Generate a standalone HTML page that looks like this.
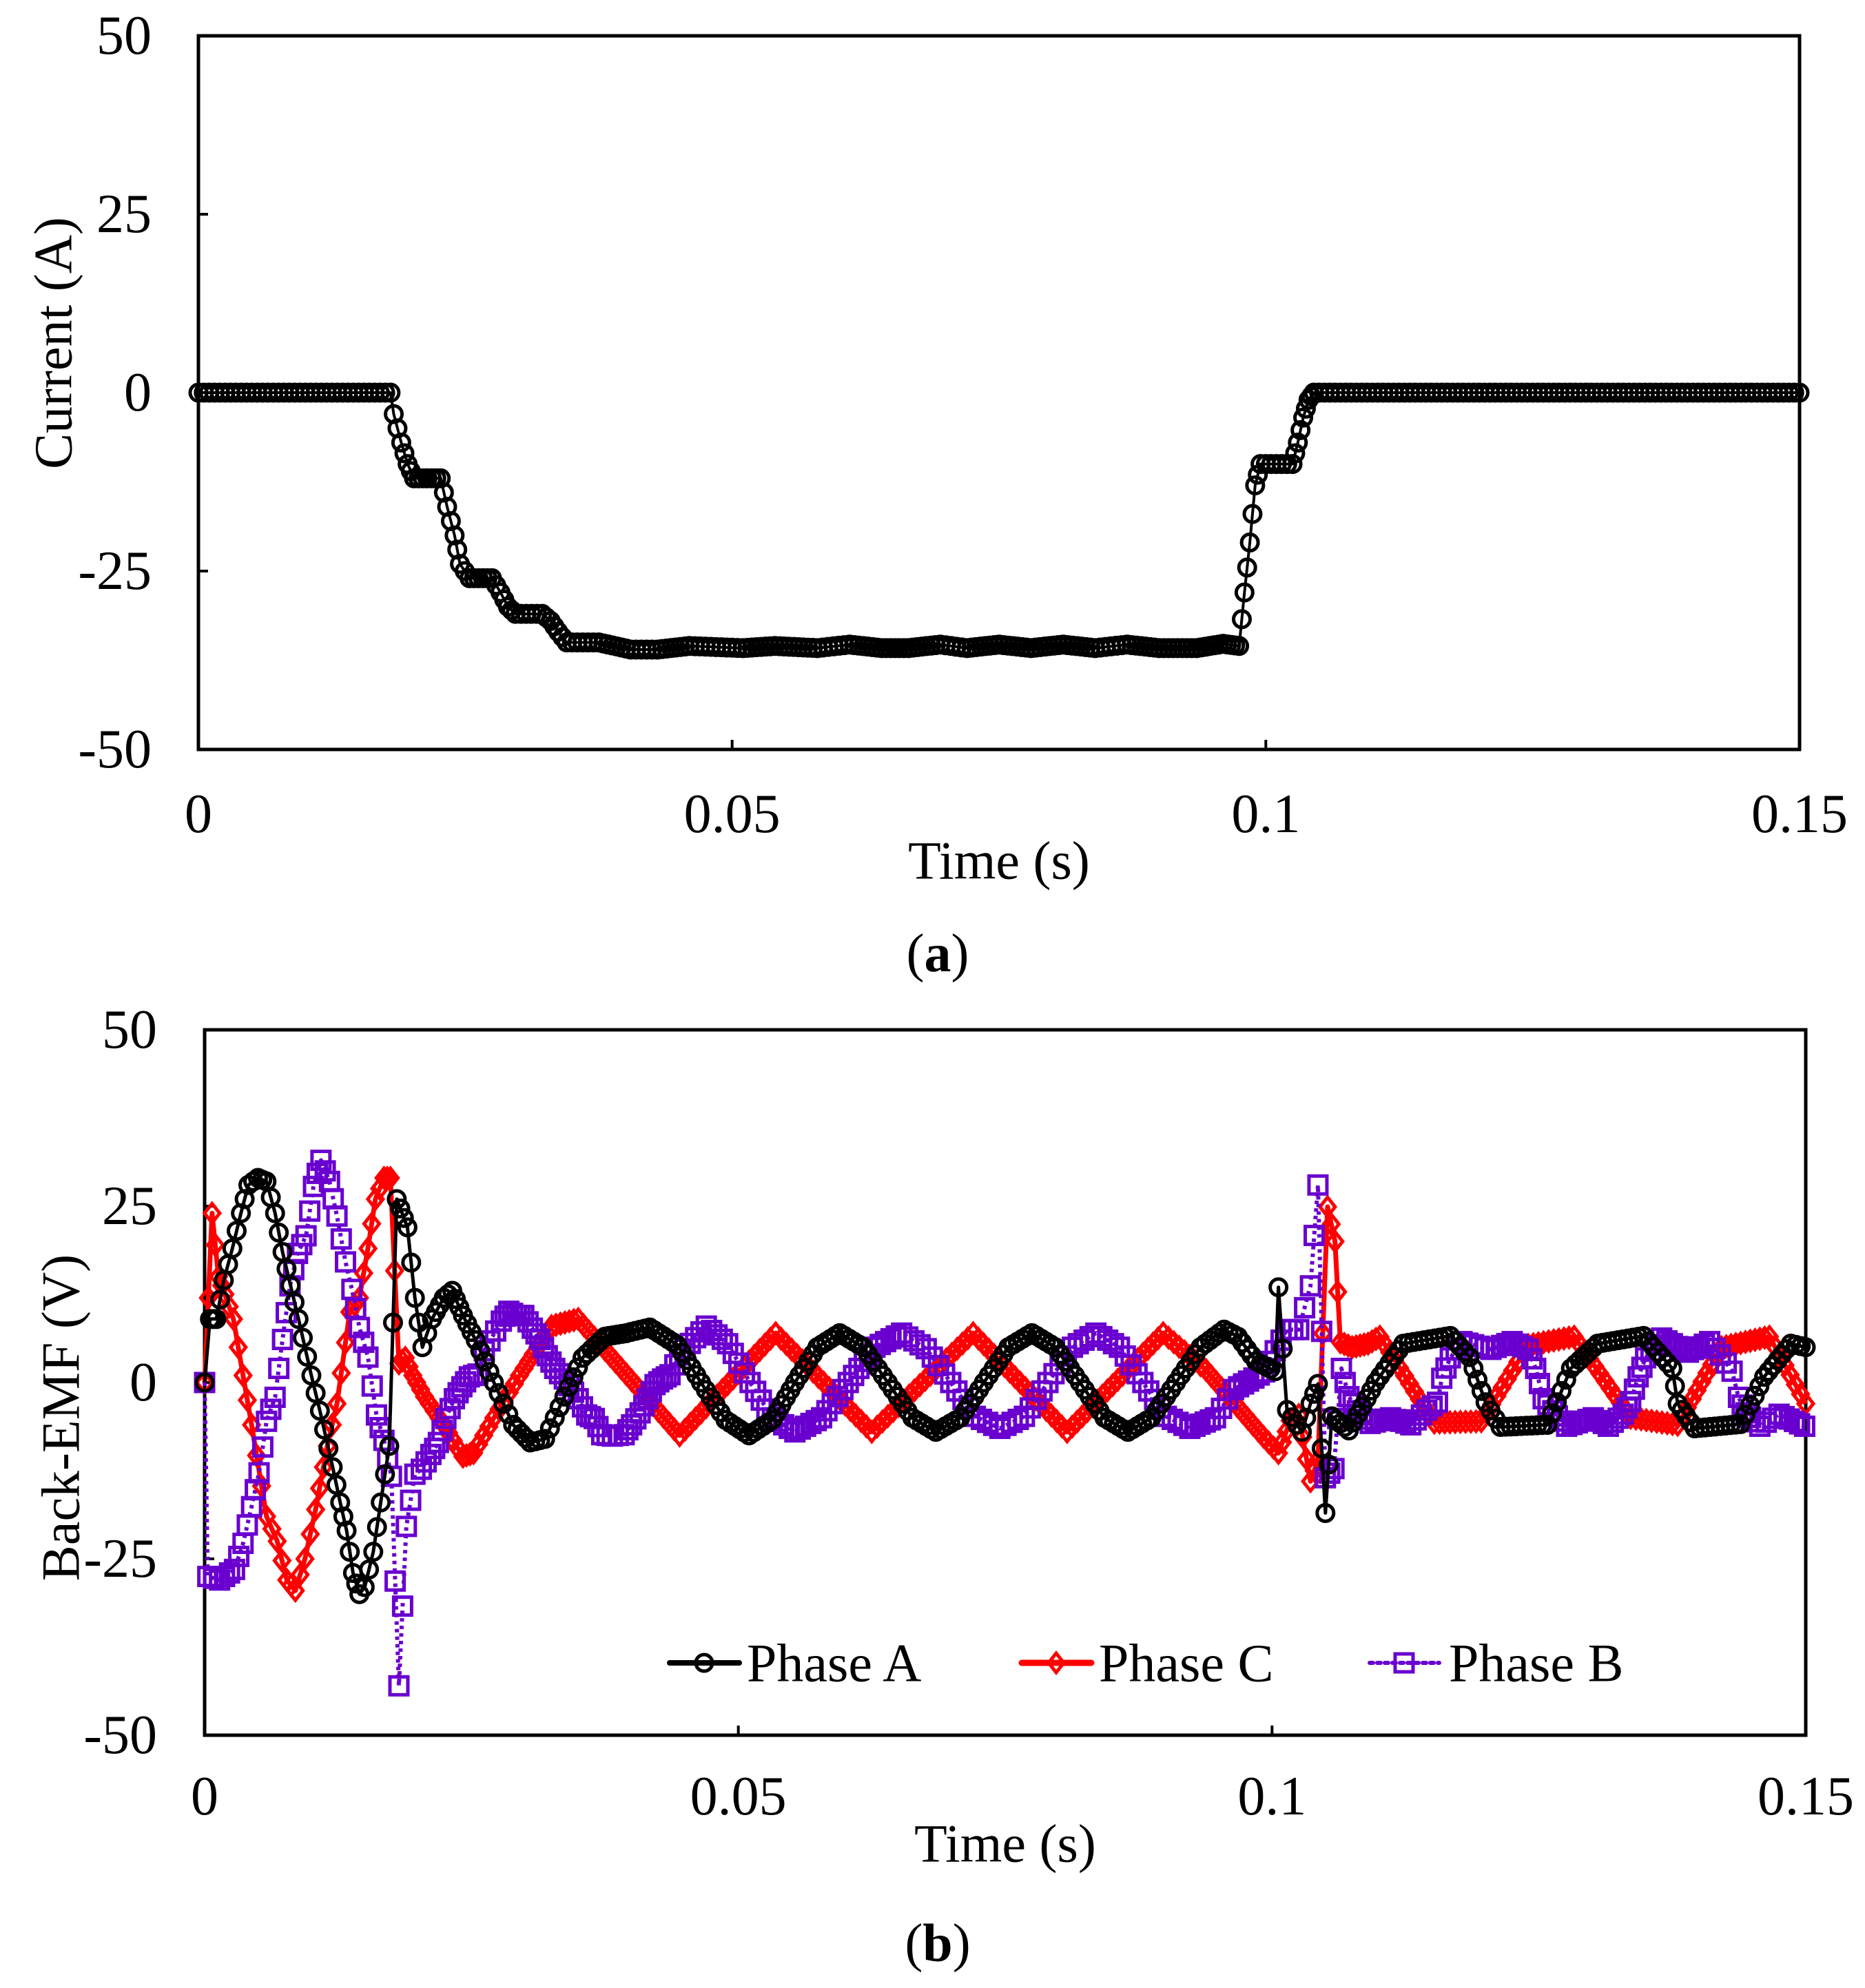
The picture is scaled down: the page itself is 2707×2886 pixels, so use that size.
<!DOCTYPE html>
<html><head><meta charset="utf-8"><style>
html,body{margin:0;padding:0;background:#fff;}
svg{display:block;font-family:"Liberation Serif",serif;}
</style></head><body>
<svg id="fig" xmlns="http://www.w3.org/2000/svg" width="2707" height="2886" viewBox="0 0 2707 2886">
<rect width="2707" height="2886" fill="#fff"/>
<g id="chartA"></g>
<g id="chartB"></g>
</svg>
<script>
// ---- Chart (a): current ----
const curT = [0,0.018,0.0183,0.019,0.0196,0.0202,0.0227,0.0233,0.024,0.0245,0.0254,0.0275,0.0283,0.029,0.0297,0.0322,0.033,0.0337,0.0345,0.0375,0.0405,0.043,0.046,0.051,0.054,0.058,0.061,0.064,0.0665,0.0695,0.072,0.075,0.078,0.081,0.084,0.087,0.09,0.0935,0.096,0.0975,0.098,0.0985,0.099,0.0995,0.1025,0.103,0.1035,0.104,0.1045,0.15];
const curV = [0,0,-3,-7,-10,-12,-12,-16,-20,-24,-26,-26,-28,-30,-31,-31,-32,-33.5,-35,-35,-36,-36,-35.5,-35.8,-35.5,-35.8,-35.3,-35.8,-35.8,-35.3,-35.8,-35.3,-35.8,-35.3,-35.8,-35.3,-35.8,-35.8,-35.2,-35.5,-28,-21,-13,-10,-10,-7,-3.5,-1,0,0];
// ---- Chart (b): back-EMF ----
const aT = [0,0.0005,0.0011,0.0018,0.0026,0.0034,0.0041,0.005,0.0058,0.0066,0.0073,0.0088,0.01,0.0108,0.012,0.0127,0.0133,0.0139,0.0145,0.015,0.0158,0.0165,0.0173,0.018,0.019,0.0197,0.0204,0.0213,0.0224,0.0232,0.0242,0.0254,0.0271,0.0289,0.0305,0.0319,0.0337,0.0354,0.0375,0.0395,0.0417,0.0443,0.0465,0.0488,0.051,0.0532,0.0553,0.0574,0.0595,0.0617,0.064,0.0663,0.0685,0.0708,0.073,0.0753,0.0775,0.0797,0.082,0.0843,0.0865,0.0887,0.091,0.0933,0.0955,0.0968,0.0985,0.1003,0.1006,0.1014,0.1028,0.1036,0.1043,0.105,0.1056,0.1072,0.1097,0.1123,0.1167,0.1185,0.12,0.1214,0.1258,0.128,0.1305,0.1348,0.1375,0.138,0.1396,0.1439,0.1461,0.1486,0.15];
const aV = [0,9,9,14.5,19,24,28,29,28.5,24,18.5,9,1,-4,-12,-17,-21,-27,-30,-29,-24,-17,-9,26,22,12,5,9,12,13,9.5,6,0,-6,-8.5,-8,-2,3.5,6.5,7,7.8,5.3,0,-5.3,-7.5,-5.3,0,5,7,5,0,-5,-7,-5,0,5,7,5,0,-5,-7,-5,0,5,7.5,6.5,3,1.6,13.5,-3.9,-7,-3,-0.2,-18.5,-4.8,-6.8,0,5.5,6.6,3.6,-2.8,-6.3,-6,2,5.5,6.6,2,-3,-6.5,-5.9,0.8,5.5,5];
const cT = [0,0.0007,0.0013,0.0019,0.0027,0.0036,0.0044,0.0058,0.0068,0.0077,0.0085,0.0094,0.0104,0.0115,0.0124,0.0136,0.0145,0.0153,0.016,0.0168,0.0174,0.0182,0.0188,0.0195,0.0206,0.0224,0.0242,0.0252,0.0271,0.0295,0.0325,0.035,0.0445,0.0535,0.0625,0.072,0.0808,0.0898,0.0938,0.0992,0.1006,0.1017,0.1025,0.1036,0.1043,0.1052,0.1059,0.1064,0.1075,0.109,0.1101,0.1152,0.1196,0.124,0.1283,0.1336,0.138,0.1421,0.1466,0.15];
const cV = [0,24,15,12.5,9,1,-6,-19,-22.5,-28,-29.5,-25,-18,-9,-3,10,12,19,26,29,29,2.7,3.5,1,-2,-6,-10.5,-10,-5,1,8,9,-7.5,7,-7,7,-7,7,1.8,-7.7,-10,-5.4,-4.6,-14,-11,24.9,20,5.7,5,5.5,6.5,-5.7,-5.5,5.3,6.5,-5,-6,5,6.5,-3];
const bT = [0,0.0003,0.0014,0.0028,0.0036,0.0044,0.0051,0.0058,0.0066,0.0073,0.008,0.0087,0.0095,0.0102,0.0109,0.0117,0.0124,0.0132,0.0138,0.0145,0.0153,0.0161,0.0168,0.0175,0.0182,0.0189,0.0197,0.0203,0.0212,0.0219,0.0226,0.0234,0.0241,0.0248,0.0256,0.0262,0.0278,0.0285,0.0292,0.0299,0.0307,0.0314,0.0321,0.0328,0.0337,0.035,0.0358,0.0365,0.0372,0.0382,0.0393,0.04,0.0408,0.0415,0.0422,0.0429,0.0436,0.0445,0.047,0.049,0.0511,0.0532,0.0553,0.0578,0.0603,0.0628,0.0653,0.0676,0.0699,0.0722,0.0745,0.0768,0.079,0.0813,0.0835,0.0857,0.0879,0.0901,0.0923,0.0947,0.0964,0.0978,0.0993,0.1003,0.1014,0.1025,0.1036,0.1043,0.105,0.1058,0.1065,0.1072,0.108,0.1092,0.1111,0.113,0.1145,0.1155,0.1159,0.1167,0.1178,0.1205,0.1225,0.124,0.1247,0.1254,0.1263,0.1276,0.1301,0.1315,0.1329,0.1336,0.1343,0.135,0.1365,0.139,0.141,0.142,0.1431,0.1437,0.1444,0.1457,0.1475,0.1499];
const bV = [0,-27.5,-28,-26.5,-22.8,-17.6,-12.8,-5.5,-2.1,6.1,13.7,18.3,20.8,27.8,31.5,28.5,23.6,17.1,13.2,7.8,3.6,-4.6,-8.2,-13.3,-43,-20.4,-13,-12.3,-10.2,-8.5,-5.1,-2.3,-0.6,0.8,1.2,4.5,8.7,10.1,9.5,9.5,7.7,6.1,3.8,2,0.5,-2.3,-4.6,-5.1,-7.4,-7.6,-7.4,-6,-4.3,-2.3,-0.3,0.5,1.1,3.9,8,5.5,0,-5,-7,-5,0,5,7,4.8,0,-4.8,-6.5,-4.8,0,5,7,5,0,-4.8,-6.5,-5,-1,0.2,1.5,4.5,7.5,7.5,13.7,28,-13.5,-12.2,2,-2,-4,-5.8,-5,-6,-3.9,-2.8,0.6,3.5,5.8,4.7,5.8,4.7,2,-2.3,-4,-6.2,-5,-6.2,-4.5,-2.7,0.8,3.5,6.3,4.3,5.8,3.9,1.6,-2.1,-4.3,-6.2,-4.5,-6.2];
const xTicks = [0,0.05,0.1,0.15];
const xTickLabels = ["0","0.05","0.1","0.15"];
const yTicks = [50,25,0,-25,-50];
const yTickLabels = ["50","25","0","-25","-50"];

const NS = "http://www.w3.org/2000/svg";
function mk(parent, tag, attrs){const e=document.createElementNS(NS,tag);for(const k in attrs)e.setAttribute(k,attrs[k]);parent.appendChild(e);return e;}

function axes(g, L, R, T, B, labelRight, xLabY, yTitle, yTitleX, yTitleY, xTitleY, capY, cap){
  const sx=t=>L+(t-0)/(0.15)*(R-L);
  const sy=v=>T+(50-v)/100*(B-T);
  const frame=mk(g,'rect',{x:L,y:T,width:R-L,height:B-T,fill:'none',stroke:'#000','stroke-width':5});
  
  
  xTicks.forEach((t,i)=>{
    const tk=mk(g,'line',{x1:sx(t),x2:sx(t),y1:B,y2:B-14,stroke:'#000','stroke-width':4});
    
    
    const tx=mk(g,'text',{x:sx(t),y:xLabY,'font-size':80,'text-anchor':'middle','dominant-baseline':'central'});
    tx.textContent=xTickLabels[i];
    
    
  });
  yTicks.forEach((v,i)=>{
    const tk=mk(g,'line',{x1:L,x2:L+14,y1:sy(v),y2:sy(v),stroke:'#000','stroke-width':4});
    
    
    const tx=mk(g,'text',{x:labelRight,y:sy(v),'font-size':80,'text-anchor':'end','dominant-baseline':'central'});
    tx.textContent=yTickLabels[i];
    
    
  });
  const xt=mk(g,'text',{x:(L+R)/2,y:xTitleY,'font-size':78,'text-anchor':'middle','dominant-baseline':'central'});
  xt.textContent='Time (s)';
  
  
  const yt=mk(g,'text',{x:yTitleX,y:yTitleY,'font-size':78,'text-anchor':'middle','dominant-baseline':'central',transform:`rotate(-90 ${yTitleX} ${yTitleY})`});
  yt.textContent=yTitle;
  
  
  const cp=mk(g,'text',{x:1361,y:capY,'font-size':78,'text-anchor':'middle','dominant-baseline':'central'});
  cp.innerHTML='(<tspan font-weight="bold">'+cap+'</tspan>)';
  
  
  return {sx,sy};
}

function marker(g,type,x,y,color){
  let e;
  if(type==='circle') e=mk(g,'circle',{cx:x,cy:y,r:12,fill:'none',stroke:color,'stroke-width':5});
  else if(type==='diamond') e=mk(g,'path',{d:`M${x} ${y-14}L${x+11} ${y}L${x} ${y+14}L${x-11} ${y}Z`,fill:'none',stroke:color,'stroke-width':5});
  else e=mk(g,'rect',{x:x-13,y:y-13,width:26,height:26,fill:'none',stroke:color,'stroke-width':5});
  return e;
}

function series(g, T, V, sx, sy, color, width, dash, mtype, step, name){
  const sg=mk(g,'g',{});
  
  
  const pts=T.map((t,i)=>sx(t).toFixed(1)+','+sy(V[i]).toFixed(1)).join(' ');
  const ln=mk(sg,'polyline',{points:pts,fill:'none',stroke:color,'stroke-width':width,'stroke-linejoin':'round'});
  if(dash) ln.setAttribute('stroke-dasharray',dash);
  
  
  for(let i=0;i<T.length;i++){
    const m=marker(sg,mtype,sx(T[i]),sy(V[i]),color);
    
    
    if(i<T.length-1){
      const gap=T[i+1]-T[i];
      const n=Math.ceil(gap/step);
      for(let k=1;k<n;k++){
        const f=k/n;
        const mm=marker(sg,mtype,sx(T[i]+gap*f),sy(V[i]+(V[i+1]-V[i])*f),color);
        
        
      }
    }
  }
}

// chart a
const gA=document.getElementById('chartA');
const axA=axes(gA,288,2612,52,1088,220,1182,'Current (A)',77,498,1249,1383,'a');
series(gA,curT,curV,axA.sx,axA.sy,'#000',4,null,'circle',0.0005,'current-series');

// chart b
const gB=document.getElementById('chartB');
const axB=axes(gB,297,2621,1495,2519,228,2608,'Back-EMF (V)',88,2058,2676,2820,'b');
series(gB,cT,cV,axB.sx,axB.sy,'#ff0000',7,null,'diamond',0.0005,'phase-c-series');
series(gB,bT,bV,axB.sx,axB.sy,'#6a00d0',6,'5 6','square',0.0006,'phase-b-series');
series(gB,aT,aV,axB.sx,axB.sy,'#000',5,null,'circle',0.0005,'phase-a-series');

// legend
const leg=mk(gB,'g',{});


const legItems=[['Phase A','#000',8,null,'circle',972,1084],['Phase C','#ff0000',9,null,'diamond',1483,1595],['Phase B','#6a00d0',6,'5 6','square',1988,2103]];
legItems.forEach(it=>{
  const eg=mk(leg,'g',{});
  
  
  const l=mk(eg,'line',{x1:it[5],x2:it[5]+101,y1:2414,y2:2414,stroke:it[1],'stroke-width':it[2],'stroke-linecap':'round'});
  if(it[3]) l.setAttribute('stroke-dasharray',it[3]);
  marker(eg,it[4],it[5]+50,2414,it[1]);
  const t=mk(eg,'text',{x:it[6],y:2414,'font-size':78,'dominant-baseline':'central'});
  t.textContent=it[0];
});
</script>
</body></html>
